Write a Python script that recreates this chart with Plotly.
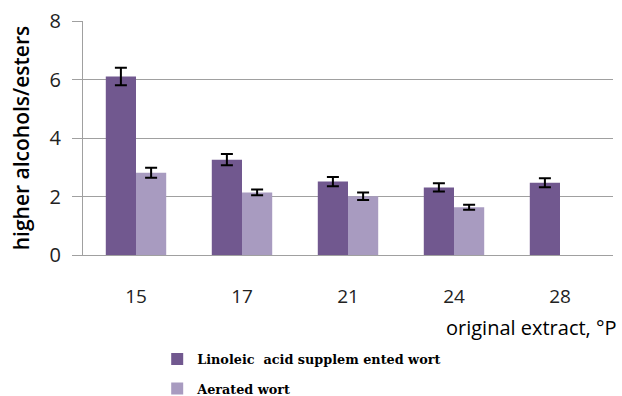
import plotly.graph_objects as go

categories = ["15", "17", "21", "24", "28"]
linoleic = [6.1, 3.26, 2.51, 2.31, 2.47]
linoleic_err = [0.3, 0.19, 0.16, 0.14, 0.15]
aerated = [2.81, 2.14, 2.01, 1.63, None]
aerated_err = [0.17, 0.1, 0.13, 0.085, None]
y_ticks = [0, 2, 4, 6, 8]

dark = "#71588F"
light = "#A89BC0"

fig = go.Figure()
fig.add_trace(go.Bar(
    x=categories, y=linoleic, name="Linoleic  acid supplem ented wort",
    marker=dict(color=dark, line=dict(width=0)),
    error_y=dict(type="data", array=linoleic_err, color="black", thickness=2, width=6),
    legendgroup="a",
))
fig.add_trace(go.Bar(
    x=categories, y=aerated, name="Aerated wort",
    marker=dict(color=light, line=dict(width=0)),
    error_y=dict(type="data", array=aerated_err, color="black", thickness=2, width=6),
    legendgroup="b",
))

fig.update_layout(
    width=622, height=396,
    margin=dict(l=83, r=9, t=21, b=141, autoexpand=False),
    paper_bgcolor="white", plot_bgcolor="white",
    barmode="group", bargap=0.43, bargroupgap=0,
    font=dict(family="Open Sans", color="black"),
    showlegend=True,
    legend=dict(
        x=0.14, y=0.131, xanchor="left", yanchor="top", yref="container",
        font=dict(family="DejaVu Serif", size=12.8, color="black", weight="bold"),
        tracegroupgap=10, traceorder="grouped",
    ),
    xaxis=dict(
        type="category", showgrid=False, showline=True, linecolor="#A0A0A0",
        ticks="", tickfont=dict(size=19, color="#222"), ticklabelstandoff=24,
    ),
    yaxis=dict(
        range=[0, 8], tickvals=y_ticks, showgrid=True, gridcolor="#A0A0A0",
        showline=True, linecolor="#A0A0A0", ticks="outside", ticklen=10,
        tickcolor="#A0A0A0", tickfont=dict(size=20, color="#222"), zeroline=False,
        ticklabelstandoff=7,
        title=dict(text="higher alcohols/esters",
                   font=dict(size=21, color="black", weight=600), standoff=14),
    ),
    annotations=[dict(
        text="original extract, °P", xref="paper", yref="paper",
        x=1, y=0, xanchor="right", yanchor="top", xshift=6, yshift=-57,
        showarrow=False, font=dict(size=20, color="black"),
    )],
)

fig.write_html("out.html")
